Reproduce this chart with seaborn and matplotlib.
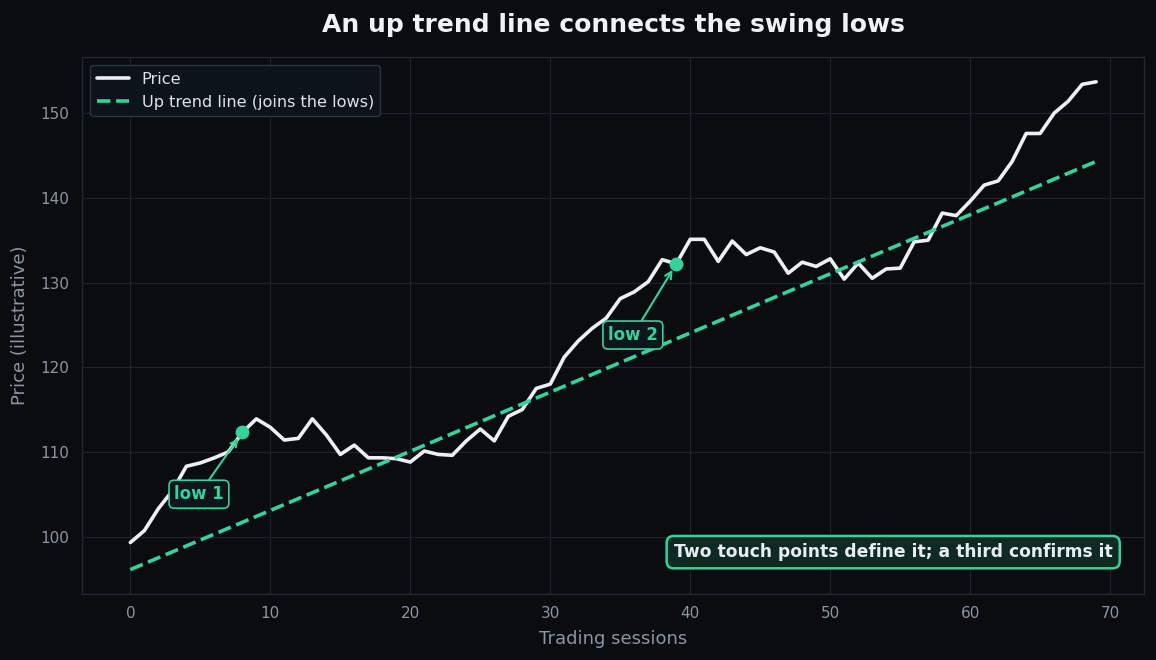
import numpy as np
import pandas as pd
import matplotlib
matplotlib.use("Agg")
import matplotlib.pyplot as plt
import seaborn as sns

# ---- data ----
sessions = list(range(70))
price = [99.3, 100.7, 103.3, 105.4, 108.3, 108.7, 109.3, 110.0, 112.3, 113.9,
         112.9, 111.4, 111.6, 113.9, 112.0, 109.7, 110.8, 109.3, 109.3, 109.2,
         108.8, 110.1, 109.7, 109.6, 111.3, 112.7, 111.3, 114.2, 115.0, 117.5,
         118.0, 121.2, 123.1, 124.6, 125.8, 128.1, 128.9, 130.1, 132.7, 132.2,
         135.1, 135.1, 132.5, 134.9, 133.3, 134.1, 133.6, 131.1, 132.4, 131.9,
         132.8, 130.4, 132.3, 130.5, 131.6, 131.7, 134.8, 135.0, 138.2, 137.9,
         139.6, 141.5, 142.0, 144.3, 147.6, 147.6, 150.0, 151.4, 153.4, 153.7]
trend_start = 96.1
trend_end = 144.3
low_idx = [8, 39]
low_labels = ["low 1", "low 2"]
low_text_pos = [(4.9, 105.0), (35.9, 123.8)]
note = "Two touch points define it; a third confirms it"

trend = list(np.linspace(trend_start, trend_end, len(sessions)))

BG = "#0b0c10"
GRID = "#1b2330"
TXT = "#8b95a3"
GREEN = "#34d399"
WHITE = "#eceff3"

sns.set_theme(style="dark")
plt.rcParams["font.family"] = ["DejaVu Sans"]

fig, ax = plt.subplots(figsize=(11.56, 6.6), dpi=100)
fig.patch.set_facecolor(BG)
ax.set_facecolor(BG)

df = pd.DataFrame({"session": sessions, "price": price, "trend": trend})
sns.lineplot(data=df, x="session", y="price", ax=ax, color=WHITE, lw=2.6, label="Price")
sns.lineplot(data=df, x="session", y="trend", ax=ax, color=GREEN, lw=2.6,
             linestyle="--", label="Up trend line (joins the lows)")

lx = [sessions[i] for i in low_idx]
ly = [price[i] for i in low_idx]
ax.scatter(lx, ly, s=80, color=GREEN, zorder=5)

for (x, y), lab, (tx, ty) in zip(zip(lx, ly), low_labels, low_text_pos):
    ax.annotate(lab, xy=(x, y), xytext=(tx, ty), ha="center", va="center",
                color=GREEN, fontsize=12, fontweight="bold",
                bbox=dict(boxstyle="round,pad=0.3", fc="#0e151b", ec=GREEN, lw=1.2),
                arrowprops=dict(arrowstyle="->", color=GREEN, lw=1.5,
                                shrinkA=0, shrinkB=5), zorder=6)

ax.text(0.97, 0.078, note, transform=ax.transAxes, ha="right", va="center",
        color="#e6edf3", fontsize=12.3, fontweight="bold",
        bbox=dict(boxstyle="round,pad=0.42", fc="#0f2a23", ec=GREEN, lw=1.8))

ax.grid(True, color=GRID, lw=0.9)
for s in ax.spines.values():
    s.set_visible(True)
    s.set_color("#1f2935")
    s.set_linewidth(1.0)
ax.tick_params(colors=TXT, labelsize=11, length=3.5, width=0.8, pad=5.5)
ax.set_xticks([0, 10, 20, 30, 40, 50, 60, 70])
ax.set_yticks([100, 110, 120, 130, 140, 150])

ax.set_xlabel("Trading sessions", color=TXT, fontsize=13, labelpad=6)
ax.set_ylabel("Price (illustrative)", color=TXT, fontsize=13, labelpad=8)
ax.set_title("An up trend line connects the swing lows", color="#eef1f5",
             fontsize=18, fontweight="bold", pad=18)

leg = ax.legend(loc="upper left", fontsize=11.6, facecolor="#0d131a",
                edgecolor="#2a3340", framealpha=1.0)
for t in leg.get_texts():
    t.set_color("#dde3ea")

fig.subplots_adjust(left=0.071, right=0.99, top=0.913, bottom=0.1)
fig.savefig("out.png", dpi=100, facecolor=BG)
